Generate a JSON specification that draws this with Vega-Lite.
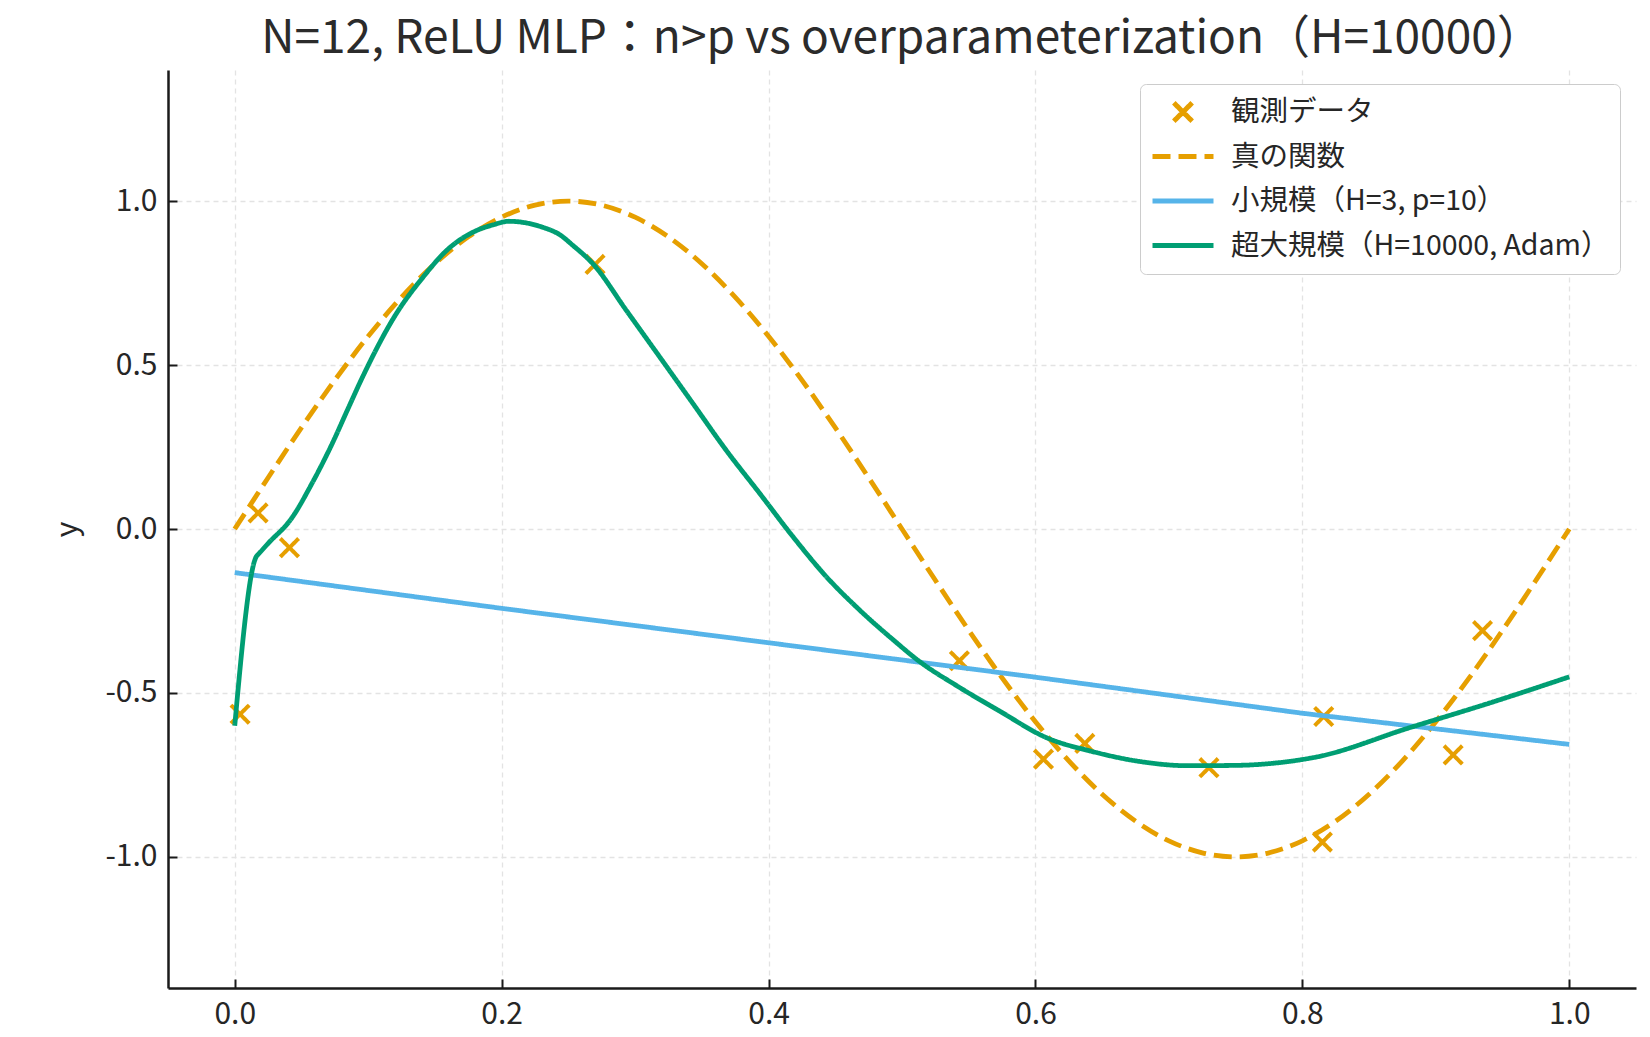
{
  "$schema": "https://vega.github.io/schema/vega-lite/v6.json",
  "width": 1468,
  "height": 918,
  "autosize": {"type": "none"},
  "padding": {"left": 168, "top": 70, "right": 14, "bottom": 49},
  "background": "white",
  "title": {
    "text": "N=12, ReLU MLP：n>p vs overparameterization（H=10000）",
    "anchor": "middle",
    "frame": "group",
    "font": "Noto Sans CJK JP",
    "fontSize": 46,
    "fontWeight": "normal",
    "color": "#2b2b2b",
    "baseline": "alphabetic",
    "offset": -29
  },
  "data": {
    "values": [
      {"s": "観測データ", "x": 0.004, "y": -0.565},
      {"s": "観測データ", "x": 0.0175, "y": 0.049},
      {"s": "観測データ", "x": 0.041, "y": -0.057},
      {"s": "観測データ", "x": 0.270, "y": 0.807},
      {"s": "観測データ", "x": 0.543, "y": -0.402},
      {"s": "観測データ", "x": 0.606, "y": -0.702},
      {"s": "観測データ", "x": 0.637, "y": -0.654},
      {"s": "観測データ", "x": 0.730, "y": -0.728},
      {"s": "観測データ", "x": 0.815, "y": -0.955},
      {"s": "観測データ", "x": 0.816, "y": -0.572},
      {"s": "観測データ", "x": 0.913, "y": -0.689},
      {"s": "観測データ", "x": 0.935, "y": -0.310},

      {"s": "真の関数", "x": 0.0, "y": 0.0},
      {"s": "真の関数", "x": 0.025, "y": 0.1564},
      {"s": "真の関数", "x": 0.05, "y": 0.309},
      {"s": "真の関数", "x": 0.075, "y": 0.454},
      {"s": "真の関数", "x": 0.1, "y": 0.5878},
      {"s": "真の関数", "x": 0.125, "y": 0.7071},
      {"s": "真の関数", "x": 0.15, "y": 0.809},
      {"s": "真の関数", "x": 0.175, "y": 0.891},
      {"s": "真の関数", "x": 0.2, "y": 0.9511},
      {"s": "真の関数", "x": 0.225, "y": 0.9877},
      {"s": "真の関数", "x": 0.25, "y": 1.0},
      {"s": "真の関数", "x": 0.275, "y": 0.9877},
      {"s": "真の関数", "x": 0.3, "y": 0.9511},
      {"s": "真の関数", "x": 0.325, "y": 0.891},
      {"s": "真の関数", "x": 0.35, "y": 0.809},
      {"s": "真の関数", "x": 0.375, "y": 0.7071},
      {"s": "真の関数", "x": 0.4, "y": 0.5878},
      {"s": "真の関数", "x": 0.425, "y": 0.454},
      {"s": "真の関数", "x": 0.45, "y": 0.309},
      {"s": "真の関数", "x": 0.475, "y": 0.1564},
      {"s": "真の関数", "x": 0.5, "y": 0.0},
      {"s": "真の関数", "x": 0.525, "y": -0.1564},
      {"s": "真の関数", "x": 0.55, "y": -0.309},
      {"s": "真の関数", "x": 0.575, "y": -0.454},
      {"s": "真の関数", "x": 0.6, "y": -0.5878},
      {"s": "真の関数", "x": 0.625, "y": -0.7071},
      {"s": "真の関数", "x": 0.65, "y": -0.809},
      {"s": "真の関数", "x": 0.675, "y": -0.891},
      {"s": "真の関数", "x": 0.7, "y": -0.9511},
      {"s": "真の関数", "x": 0.725, "y": -0.9877},
      {"s": "真の関数", "x": 0.75, "y": -1.0},
      {"s": "真の関数", "x": 0.775, "y": -0.9877},
      {"s": "真の関数", "x": 0.8, "y": -0.9511},
      {"s": "真の関数", "x": 0.825, "y": -0.891},
      {"s": "真の関数", "x": 0.85, "y": -0.809},
      {"s": "真の関数", "x": 0.875, "y": -0.7071},
      {"s": "真の関数", "x": 0.9, "y": -0.5878},
      {"s": "真の関数", "x": 0.925, "y": -0.454},
      {"s": "真の関数", "x": 0.95, "y": -0.309},
      {"s": "真の関数", "x": 0.975, "y": -0.1564},
      {"s": "真の関数", "x": 1.0, "y": 0.0},

      {"s": "小規模（H=3, p=10）", "x": 0.0, "y": -0.133},
      {"s": "小規模（H=3, p=10）", "x": 0.2, "y": -0.242},
      {"s": "小規模（H=3, p=10）", "x": 0.4, "y": -0.347},
      {"s": "小規模（H=3, p=10）", "x": 0.6, "y": -0.452},
      {"s": "小規模（H=3, p=10）", "x": 0.8, "y": -0.562},
      {"s": "小規模（H=3, p=10）", "x": 1.0, "y": -0.657},

      {"s": "超大規模（H=10000, Adam）", "x": 0.0, "y": -0.6},
      {"s": "超大規模（H=10000, Adam）", "x": 0.0165, "y": -0.082},
      {"s": "超大規模（H=10000, Adam）", "x": 0.0172, "y": -0.079},
      {"s": "超大規模（H=10000, Adam）", "x": 0.025, "y": -0.044},
      {"s": "超大規模（H=10000, Adam）", "x": 0.0425, "y": 0.032},
      {"s": "超大規模（H=10000, Adam）", "x": 0.058, "y": 0.140},
      {"s": "超大規模（H=10000, Adam）", "x": 0.0724, "y": 0.255},
      {"s": "超大規模（H=10000, Adam）", "x": 0.0849, "y": 0.367},
      {"s": "超大規模（H=10000, Adam）", "x": 0.0949, "y": 0.456},
      {"s": "超大規模（H=10000, Adam）", "x": 0.1211, "y": 0.657},
      {"s": "超大規模（H=10000, Adam）", "x": 0.1411, "y": 0.768},
      {"s": "超大規模（H=10000, Adam）", "x": 0.1586, "y": 0.849},
      {"s": "超大規模（H=10000, Adam）", "x": 0.181, "y": 0.910},
      {"s": "超大規模（H=10000, Adam）", "x": 0.1935, "y": 0.9275},
      {"s": "超大規模（H=10000, Adam）", "x": 0.2055, "y": 0.9386},
      {"s": "超大規模（H=10000, Adam）", "x": 0.2185, "y": 0.9335},
      {"s": "超大規模（H=10000, Adam）", "x": 0.231, "y": 0.920},
      {"s": "超大規模（H=10000, Adam）", "x": 0.2434, "y": 0.898},
      {"s": "超大規模（H=10000, Adam）", "x": 0.2534, "y": 0.865},
      {"s": "超大規模（H=10000, Adam）", "x": 0.2684, "y": 0.809},
      {"s": "超大規模（H=10000, Adam）", "x": 0.2934, "y": 0.667},
      {"s": "超大規模（H=10000, Adam）", "x": 0.3184, "y": 0.525},
      {"s": "超大規模（H=10000, Adam）", "x": 0.3433, "y": 0.383},
      {"s": "超大規模（H=10000, Adam）", "x": 0.3683, "y": 0.240},
      {"s": "超大規模（H=10000, Adam）", "x": 0.3933, "y": 0.109},
      {"s": "超大規模（H=10000, Adam）", "x": 0.4182, "y": -0.023},
      {"s": "超大規模（H=10000, Adam）", "x": 0.4432, "y": -0.145},
      {"s": "超大規模（H=10000, Adam）", "x": 0.4682, "y": -0.247},
      {"s": "超大規模（H=10000, Adam）", "x": 0.4931, "y": -0.337},
      {"s": "超大規模（H=10000, Adam）", "x": 0.5134, "y": -0.405},
      {"s": "超大規模（H=10000, Adam）", "x": 0.541, "y": -0.478},
      {"s": "超大規模（H=10000, Adam）", "x": 0.5734, "y": -0.556},
      {"s": "超大規模（H=10000, Adam）", "x": 0.608, "y": -0.636},
      {"s": "超大規模（H=10000, Adam）", "x": 0.642, "y": -0.678},
      {"s": "超大規模（H=10000, Adam）", "x": 0.678, "y": -0.709},
      {"s": "超大規模（H=10000, Adam）", "x": 0.714, "y": -0.722},
      {"s": "超大規模（H=10000, Adam）", "x": 0.750, "y": -0.721},
      {"s": "超大規模（H=10000, Adam）", "x": 0.786, "y": -0.711},
      {"s": "超大規模（H=10000, Adam）", "x": 0.811, "y": -0.695},
      {"s": "超大規模（H=10000, Adam）", "x": 0.8796, "y": -0.607},
      {"s": "超大規模（H=10000, Adam）", "x": 0.9409, "y": -0.530},
      {"s": "超大規模（H=10000, Adam）", "x": 1.0, "y": -0.451}
    ]
  },
  "encoding": {
    "x": {
      "field": "x",
      "type": "quantitative",
      "scale": {"domain": [-0.05, 1.05], "nice": false, "zero": false},
      "axis": {"title": null, "values": [0, 0.2, 0.4, 0.6, 0.8, 1.0], "format": ".1f"}
    },
    "y": {
      "field": "y",
      "type": "quantitative",
      "scale": {"domain": [-1.4, 1.4], "nice": false, "zero": false},
      "axis": {
        "title": "y",
        "values": [-1, -0.5, 0, 0.5, 1],
        "labelExpr": "replace(format(datum.value, '.1f'), '−', '-')"
      }
    },
    "color": {
      "field": "s",
      "type": "nominal",
      "scale": {
        "domain": ["観測データ", "真の関数", "小規模（H=3, p=10）", "超大規模（H=10000, Adam）"],
        "range": ["#E69F00", "#E69F00", "#56B4E9", "#009E73"]
      },
      "legend": {"title": null}
    }
  },
  "layer": [
    {
      "transform": [{"filter": "datum.s === '観測データ'"}],
      "mark": {"type": "point", "filled": false, "size": 3721, "strokeWidth": 4, "opacity": 1},
      "encoding": {
        "shape": {
          "field": "s",
          "type": "nominal",
          "scale": {
            "domain": ["観測データ", "真の関数", "小規模（H=3, p=10）", "超大規模（H=10000, Adam）"],
            "range": ["M-0.3,-0.3L0.3,0.3M0.3,-0.3L-0.3,0.3", "stroke", "stroke", "stroke"]
          },
          "legend": {"title": null}
        },
        "strokeDash": {
          "field": "s",
          "type": "nominal",
          "scale": {
            "domain": ["観測データ", "真の関数", "小規模（H=3, p=10）", "超大規模（H=10000, Adam）"],
            "range": [[1, 0], [18, 8], [1, 0], [1, 0]]
          },
          "legend": {"title": null}
        }
      }
    },
    {
      "transform": [{"filter": "datum.s === '真の関数'"}],
      "mark": {"type": "line", "strokeWidth": 4.8, "interpolate": "monotone"},
      "encoding": {
        "strokeDash": {"field": "s", "type": "nominal", "legend": {"title": null}}
      }
    },
    {
      "transform": [{"filter": "datum.s === '小規模（H=3, p=10）'"}],
      "mark": {"type": "line", "strokeWidth": 4.8, "interpolate": "linear"},
      "encoding": {
        "strokeDash": {"field": "s", "type": "nominal", "legend": {"title": null}}
      }
    },
    {
      "transform": [{"filter": "datum.s === '超大規模（H=10000, Adam）'"}],
      "mark": {"type": "line", "strokeWidth": 4.8, "interpolate": "monotone"},
      "encoding": {
        "strokeDash": {"field": "s", "type": "nominal", "legend": {"title": null}}
      }
    }
  ],
  "config": {
    "view": {"stroke": null},
    "font": "Noto Sans CJK JP",
    "axis": {
      "grid": true,
      "gridColor": "#e3e3e3",
      "gridDash": [5, 4],
      "gridWidth": 1.3,
      "domainColor": "#1a1a1a",
      "domainWidth": 2.5,
      "tickColor": "#1a1a1a",
      "tickWidth": 2,
      "tickSize": -9,
      "labelPadding": 20,
      "labelFont": "Noto Sans CJK JP",
      "labelFontSize": 30,
      "labelColor": "#262626",
      "labelFlush": false,
      "labelOverlap": false,
      "titleFont": "Noto Sans CJK JP",
      "titleFontSize": 30,
      "titleFontWeight": "normal",
      "titleColor": "#262626",
      "titlePadding": 22
    },
    "legend": {
      "orient": "none",
      "legendX": 972,
      "legendY": 14,
      "labelFont": "Noto Sans CJK JP",
      "labelFontSize": 28.5,
      "labelColor": "#262626",
      "fillColor": "white",
      "strokeColor": "#cccccc",
      "cornerRadius": 6,
      "padding": 10,
      "clipHeight": 36,
      "rowPadding": 8.5,
      "symbolSize": 3721,
      "symbolStrokeWidth": 5,
      "symbolOffset": 0,
      "labelOffset": 15,
      "labelLimit": 600
    }
  }
}
